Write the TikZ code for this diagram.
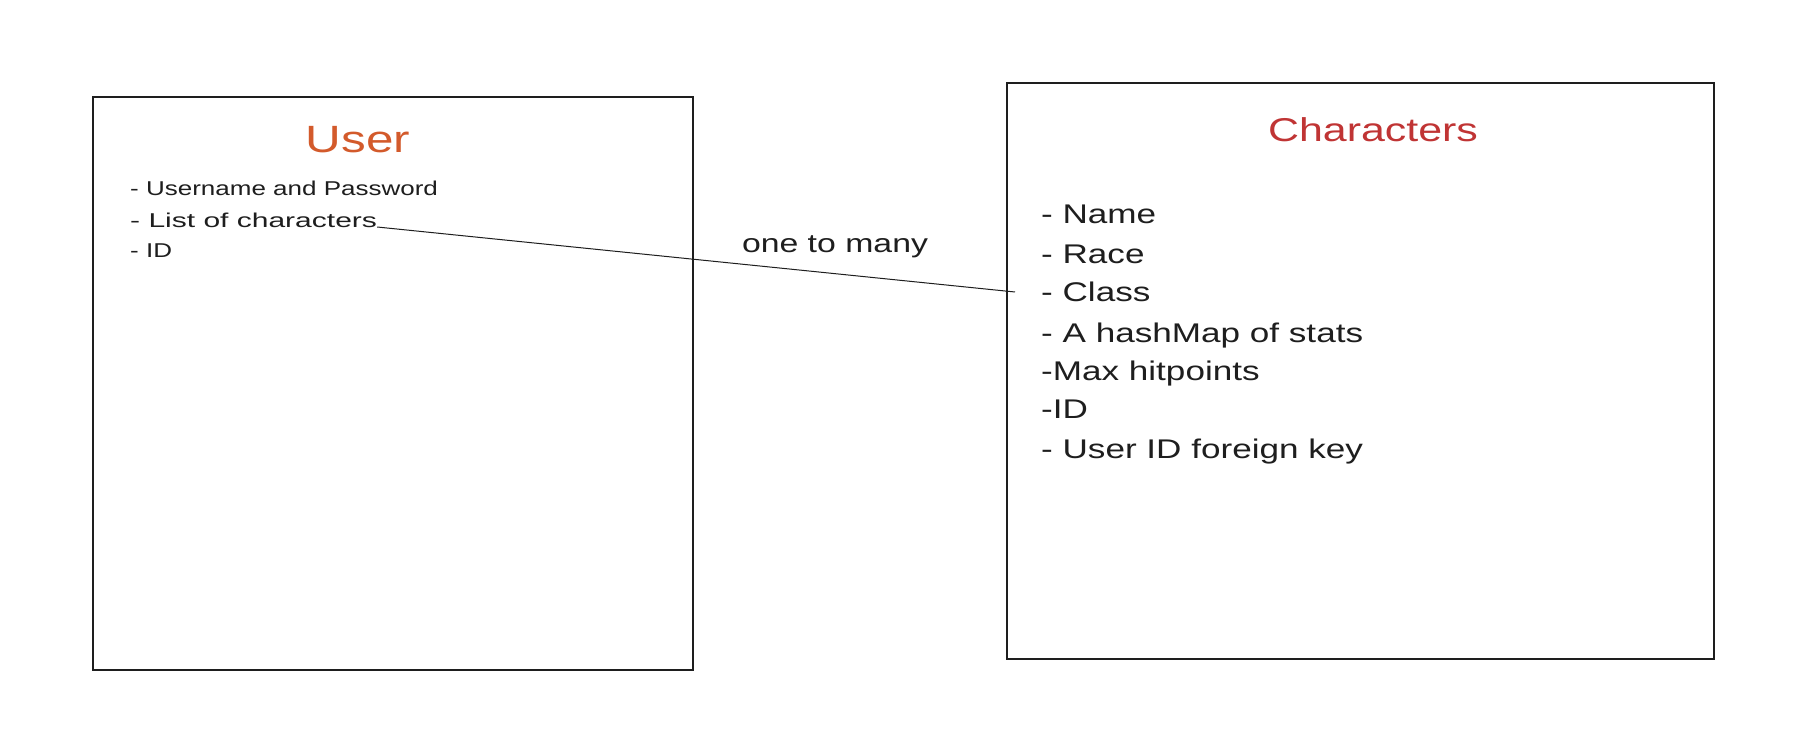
\documentclass[tikz,border=0pt]{standalone}
\usepackage{fontspec}
\newfontfamily\hand[FakeStretch=1.3]{Liberation Sans}
\newfontfamily\handwide[FakeStretch=1.5]{Liberation Sans}
\definecolor{usercol}{HTML}{D35A2B}
\definecolor{charcol}{HTML}{C03434}
\definecolor{ink}{HTML}{1E1E1E}
\begin{document}
\begin{tikzpicture}[x=1pt,y=-1pt,
  entity/.style={draw=ink,line width=1.2pt,inner sep=0pt},
  title/.style={inner sep=0pt,anchor=base,font=\hand\fontsize{#1}{#1}\selectfont},
  item/.style={inner sep=0pt,anchor=base west,text=ink,font=\hand\fontsize{#1}{#1}\selectfont},
  link/.style={draw=ink,line width=1pt}]
\useasboundingbox (0,0) rectangle (1796,738);
\fill[white] (0,0) rectangle (1796,738);
% boxes
\node[entity,minimum width=600pt,minimum height=573pt] (userbox) at (393,383.5) {};
\node[entity,minimum width=707pt,minimum height=576pt] (charbox) at (1360.5,371) {};
% titles
\node[title=38pt,text=usercol] (usertitle) at (358,153) {User};
\node[title=33pt,text=charcol] (chartitle) at (1373,142) {Characters};
% user items
\node[item=20pt] (u1) at (130,196) {- Username and Password};
\node[item=20pt,font=\handwide\fontsize{20pt}{20pt}\selectfont] (u2) at (130,227) {- List of characters};
\node[item=20pt] (u3) at (130,258) {- ID};
% character items
\node[item=27pt] (c1) at (1041,223) {- Name};
\node[item=27pt] (c2) at (1041,263) {- Race};
\node[item=27pt] (c3) at (1041,301) {- Class};
\node[item=27pt] (c4) at (1041,342) {- A hashMap of stats};
\node[item=27pt] (c5) at (1041,380) {-Max hitpoints};
\node[item=27pt] (c6) at (1041,418) {-ID};
\node[item=27pt] (c7) at (1041,458) {- User ID foreign key};
% connector
\coordinate (linkend) at (1015,292);
\draw[link] (u2.base east) -- (linkend);
\node[title=26pt,text=ink] (rel) at (835,252) {one to many};
\end{tikzpicture}
\end{document}
